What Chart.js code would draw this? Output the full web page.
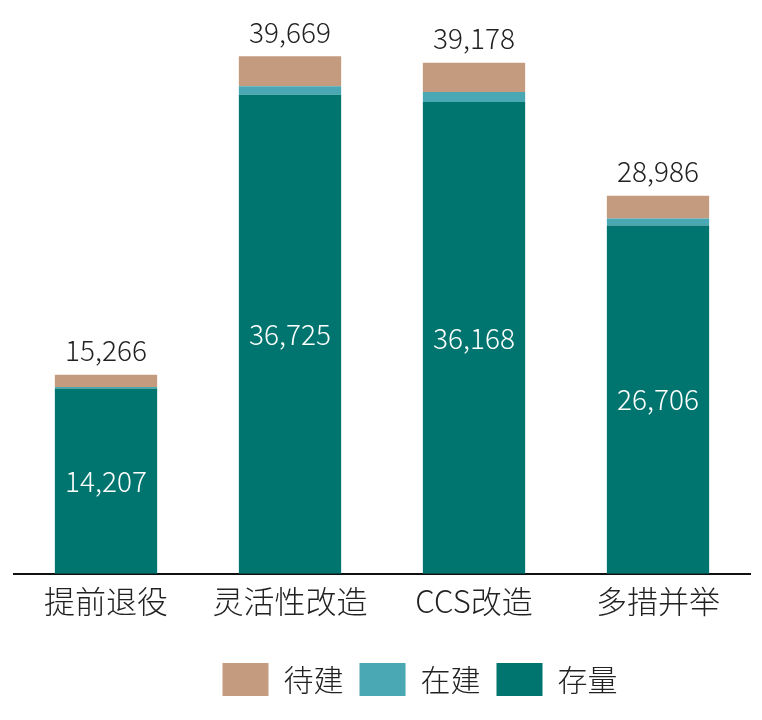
<!DOCTYPE html>
<html>
<head>
<meta charset="utf-8">
<script src="https://cdn.jsdelivr.net/npm/chart.js@4.4.0/dist/chart.umd.min.js"></script>
<style>
  html, body { margin: 0; padding: 0; background: #fff; }
  #wrap { width: 762px; height: 720px; }
</style>
</head>
<body>
<div id="wrap"><canvas id="chart"></canvas></div>
<script>
const categories = ['提前退役', '灵活性改造', 'CCS改造', '多措并举'];
const stock = [14207, 36725, 36168, 26706];        // 存量
const building = [115, 650, 770, 530];              // 在建
const planned = [944, 2294, 2240, 1750];            // 待建
const totals = [15266, 39669, 39178, 28986];

const fontFamily = '"Noto Sans CJK SC", "Noto Sans", sans-serif';

const labelPlugin = {
  id: 'barLabels',
  afterLayout(chart) {
    // legend sits a bit right of centre in the original
    chart.legend.left += 38;
    chart.legend.right += 38;
  },
  afterDatasetsDraw(chart) {
    const ctx = chart.ctx;
    const bottomMeta = chart.getDatasetMeta(0);
    const topMeta = chart.getDatasetMeta(2);
    ctx.save();
    ctx.font = '300 28px ' + fontFamily;
    ctx.textAlign = 'center';
    bottomMeta.data.forEach((bar, i) => {
      ctx.fillStyle = '#ffffff';
      ctx.textBaseline = 'middle';
      ctx.fillText(stock[i].toLocaleString('en-US'), bar.x, (bar.y + bar.base) / 2);
      const top = topMeta.data[i];
      ctx.fillStyle = '#222222';
      ctx.textBaseline = 'bottom';
      ctx.fillText(totals[i].toLocaleString('en-US'), top.x, top.y - 10);
    });
    ctx.restore();
  }
};

new Chart(document.getElementById('chart'), {
  type: 'bar',
  data: {
    labels: categories,
    datasets: [
      { label: '存量', data: stock, backgroundColor: '#00756F' },
      { label: '在建', data: building, backgroundColor: '#49A8B4' },
      { label: '待建', data: planned, backgroundColor: '#C49B7F' }
    ]
  },
  options: {
    responsive: true,
    maintainAspectRatio: false,
    animation: false,
    layout: { padding: { top: 52, left: 14, right: 12, bottom: 14 } },
    datasets: { bar: { barPercentage: 0.556, categoryPercentage: 1.0 } },
    scales: {
      x: {
        stacked: true,
        grid: { display: false },
        border: { color: '#111', width: 2 },
        ticks: { color: '#222', font: { family: fontFamily, size: 31, weight: 300 }, padding: 1 },
        afterFit(scale) { scale.height += 26; }
      },
      y: {
        stacked: true,
        display: false,
        min: 0,
        max: 40000
      }
    },
    plugins: {
      tooltip: { enabled: false },
      legend: {
        position: 'bottom',
        reverse: true,
        labels: {
          color: '#222',
          font: { family: fontFamily, size: 30, weight: 300 },
          boxWidth: 46,
          boxHeight: 33,
          padding: 16
        }
      }
    }
  },
  plugins: [labelPlugin]
});
</script>
</body>
</html>
